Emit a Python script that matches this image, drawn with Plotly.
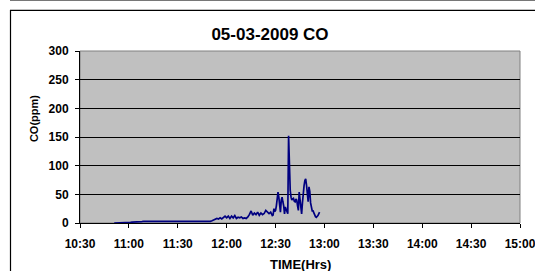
import plotly.graph_objects as go

# ---- data ----
times = [
    "10:51", "10:52", "10:53", "10:54", "10:55", "10:56", "10:57", "10:58", "10:59",
    "11:00", "11:01", "11:02", "11:03", "11:04", "11:05", "11:06", "11:07", "11:08", "11:09", "11:10",
    "11:12", "11:14", "11:16", "11:18", "11:20", "11:22", "11:24", "11:26", "11:28", "11:30",
    "11:32", "11:34", "11:36", "11:38", "11:40", "11:42", "11:44", "11:46", "11:48", "11:50",
    "11:51", "11:52", "11:53", "11:54", "11:55", "11:56", "11:57", "11:58", "11:59",
    "12:00", "12:01", "12:02", "12:03", "12:04", "12:05", "12:06", "12:07", "12:08", "12:09",
    "12:10", "12:11", "12:12", "12:13", "12:14", "12:15", "12:16", "12:17", "12:18", "12:19",
    "12:20", "12:21", "12:22", "12:23", "12:24", "12:25", "12:26", "12:27",
    "12:28:00", "12:28:30", "12:29:00", "12:29:30", "12:30:00", "12:30:30", "12:31:00", "12:31:30",
    "12:32:00", "12:32:30", "12:33:00", "12:33:30", "12:34:00", "12:34:30", "12:35:00", "12:35:30",
    "12:36:00", "12:36:30", "12:37:00", "12:37:30", "12:38:00", "12:38:30", "12:39:00", "12:39:30",
    "12:40:00", "12:40:30", "12:41:00", "12:41:30", "12:42:00", "12:42:30", "12:43:00", "12:43:30",
    "12:44:00", "12:44:30", "12:45:00", "12:45:30", "12:46:00", "12:46:30", "12:47:00", "12:47:30",
    "12:48:00", "12:48:30", "12:49:00", "12:49:30", "12:50:00", "12:50:30", "12:51:00", "12:51:30",
    "12:52:00", "12:52:30", "12:53:00", "12:53:30", "12:54:00", "12:54:30", "12:55:00", "12:55:30",
    "12:56:00", "12:56:30", "12:57:00",
]
co_ppm = [
    0, 0, 0, 0, 0, 0.5, 0.5, 1, 1,
    1, 1, 1.5, 1.5, 2, 2, 2, 2.5, 2.5, 3, 3,
    3, 3, 2.5, 3, 3, 2.5, 3, 3, 3, 2.5,
    3, 3, 2.5, 3, 3, 3, 2.5, 3, 3, 3,
    4, 5, 6, 8, 7, 9, 7, 10, 12,
    9, 12, 8, 12, 9, 13, 8, 10, 9, 10.5,
    8, 9, 8, 10.5, 15, 21, 13.5, 17.5, 14.5, 19,
    13.5, 17.5, 14.5, 16.5, 22, 19, 16.5, 19,
    13, 14, 25, 20, 22, 30, 40, 54,
    45, 30, 19, 40, 45, 37, 30, 16,
    28, 24, 20, 16, 152, 100, 57, 45,
    40, 42, 43, 38, 37, 42, 40, 30,
    22, 54, 38, 28, 16, 35, 54, 65,
    74, 77, 66, 54, 37, 63, 55, 35,
    22, 21, 21, 17, 13, 11, 10, 11,
    13, 16, 19,
]
x_range = ["10:30", "15:00"]
y_ticks = [0, 50, 100, 150, 200, 250, 300]
title_text = "05-03-2009 CO"
x_title = "TIME(Hrs)"
y_title = "CO(ppm)"

DAY = "2009-03-05 "


def ts(t):
    return DAY + (t if len(t) > 5 else t + ":00")


xs = [ts(t) for t in times]

FONT = "Liberation Sans, Arial, sans-serif"

fig = go.Figure()
fig.add_trace(go.Scatter(
    x=xs, y=co_ppm, mode="lines",
    line=dict(color="#000080", width=1.7),
    showlegend=False,
))

# plot area geometry: x 80..520, y 51..222.7 (px)
L, R, T, B = 80, 15, 51, 48.3
W, H = 535, 271
pw = W - L - R
ph = H - T - B


def px_to_paper_x(px):
    return (px - L) / pw


def px_to_paper_y(py):
    return (H - B - py) / ph


fig.update_layout(
    width=W, height=H,
    margin=dict(l=L, r=R, t=T, b=B, pad=0, autoexpand=False),
    paper_bgcolor="white",
    plot_bgcolor="#C0C0C0",
    title=dict(
        text=f"<b>{title_text}</b>",
        font=dict(family=FONT, size=17, color="black"),
        x=270 / W, xanchor="center", xref="container",
        y=1 - 34 / H, yanchor="middle", yref="container",
    ),
    xaxis=dict(
        type="date",
        range=[ts(x_range[0]), ts(x_range[1])],
        dtick=30 * 60 * 1000,
        tick0=ts("10:30"),
        tickformat="%H:%M",
        showgrid=False,
        zeroline=False,
        showline=True, linecolor="black", linewidth=1,
        ticks="outside", ticklen=4, tickcolor="black", tickwidth=1,
        ticklabelstandoff=6,
        ticklabeloverflow="allow",
        tickfont=dict(family=FONT, size=12, color="black", weight="bold"),
    ),
    yaxis=dict(
        range=[0, 300],
        tickvals=y_ticks,
        showgrid=True, gridcolor="black", gridwidth=1,
        zeroline=False,
        showline=True, linecolor="black", linewidth=1,
        ticks="outside", ticklen=4, tickcolor="black", tickwidth=1,
        ticklabelstandoff=4,
        tickfont=dict(family=FONT, size=12, color="black", weight="bold"),
    ),
    shapes=[
        dict(type="rect", xref="paper", yref="paper", x0=0, x1=1, y0=0, y1=1,
             line=dict(color="#808080", width=1), layer="below"),
        dict(type="rect", xref="paper", yref="paper",
             x0=px_to_paper_x(10.5), x1=px_to_paper_x(560),
             y0=px_to_paper_y(300), y1=px_to_paper_y(10.5),
             line=dict(color="black", width=1.2), layer="below"),
        dict(type="line", xref="paper", yref="paper",
             x0=px_to_paper_x(10), x1=px_to_paper_x(540),
             y0=px_to_paper_y(0.5), y1=px_to_paper_y(0.5),
             line=dict(color="#777777", width=1.2), layer="below"),
    ],
    annotations=[
        dict(text=f"<b>{x_title}</b>", xref="paper", yref="paper",
             x=px_to_paper_x(300), y=px_to_paper_y(264),
             xanchor="center", yanchor="middle", showarrow=False,
             font=dict(family=FONT, size=13, color="black")),
        dict(text=f"<b>{y_title}</b>", xref="paper", yref="paper",
             x=px_to_paper_x(34), y=px_to_paper_y(119),
             xanchor="center", yanchor="middle", showarrow=False, textangle=-90,
             font=dict(family=FONT, size=11, color="black")),
    ],
)

fig.write_html(
    "out.html",
    config={"displayModeBar": False},
    post_script="document.body.style.margin='0px';document.body.style.overflow='hidden';",
)
